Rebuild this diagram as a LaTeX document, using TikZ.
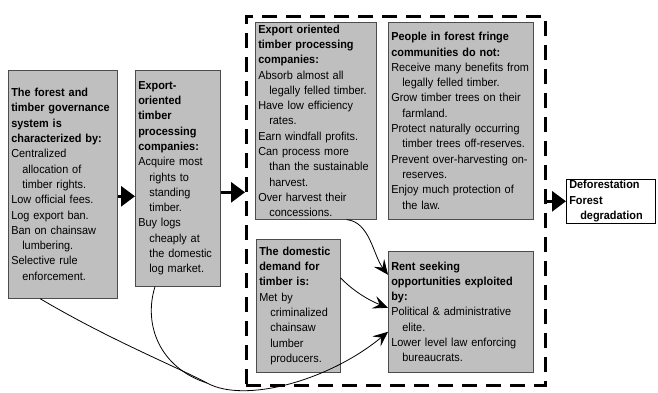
\documentclass[tikz,border=0pt]{standalone}
\usepackage{fontspec}
\setmainfont{Liberation Sans}[FakeStretch=0.94]
\usetikzlibrary{arrows.meta}

\newcommand{\indt}{\hspace*{11pt}} % hanging indent for wrapped lines

\begin{document}
\begin{tikzpicture}[x=1pt,y=-1pt,
  panel/.style={draw=black!70, fill=black!25, line width=0.6pt, anchor=north west, align=left,
    inner xsep=3pt, inner ysep=1pt, font=\fontsize{11.6}{15.3}\selectfont},
  bigarrow/.style={line width=3pt, -{Triangle[length=14pt,width=20pt]}},
  curveline/.style={line width=0.8pt},
  curvearrow/.style={curveline, -{Stealth[length=15pt,width=13pt,inset=6pt]}}]

\useasboundingbox (0,0) rectangle (658,393);


%dashed frame round the middle group
\node[draw, line width=2.6pt, dash pattern=on 15pt off 9pt, anchor=north west,
  minimum width=299pt, minimum height=369pt, inner sep=0pt] (group) at (245,15) {};


%governance box on the far left
\node[panel, minimum width=109pt, text width=103pt, minimum height=228pt] (gov) at (8,70)
  {\bfseries The forest and\\ timber governance\\ system is\\ characterized by:\\
   \mdseries Centralized\\ \indt allocation of\\ \indt timber rights.\\ Low official fees.\\
   Log export ban.\\ Ban on chainsaw\\ \indt lumbering.\\ Selective rule\\ \indt enforcement.};

%export companies, first column
\node[panel, minimum width=85pt, text width=79pt, minimum height=216pt] (exp1) at (135,70)
  {\bfseries Export-\\ oriented\\ timber\\ processing\\ companies:\\
   \mdseries Acquire most\\ \indt rights to\\ \indt standing\\ \indt timber.\\
   Buy logs\\ \indt cheaply at\\ \indt the domestic\\ \indt log market.};


%boxes inside the dashed frame
\node[panel, minimum width=121pt, text width=115pt, minimum height=197pt] (exp2) at (255,22)
  {\bfseries Export oriented\\ timber processing\\ companies:\\
   \mdseries Absorb almost all\\ \indt legally felled timber.\\ Have low efficiency\\ \indt rates.\\
   Earn windfall profits.\\ Can process more\\ \indt than the sustainable\\ \indt harvest.\\
   Over harvest their\\ \indt concessions.};

\node[panel, minimum width=145pt, text width=139pt, minimum height=197pt] (people) at (388,22)
  {\bfseries People in forest fringe\\ communities do not:\\
   \mdseries Receive many benefits from\\ \indt legally felled timber.\\
   Grow timber trees on their\\ \indt farmland.\\ Protect naturally occurring\\
   \indt timber trees off-reserves.\\ Prevent over-harvesting on-\\ \indt reserves.\\
   Enjoy much protection of\\ \indt the law.};

\node[panel, minimum width=84pt, text width=78pt, minimum height=133pt] (domestic) at (256,239)
  {\bfseries The domestic\\ demand for\\ timber is:\\
   \mdseries Met by\\ \indt criminalized\\ \indt chainsaw\\ \indt lumber\\ \indt producers.};

\node[panel, minimum width=145pt, text width=139pt, minimum height=121pt] (rent) at (388,251)
  {\bfseries Rent seeking\\ opportunities exploited\\ by:\\
   \mdseries Political \& administrative\\ \indt elite.\\
   Lower level law enforcing\\ \indt bureaucrats.};


%outcome box on the right
\node[panel, fill=white, draw=black, minimum width=89pt, text width=83pt, minimum height=44pt] (defo) at (566,179)
  {\bfseries Deforestation\\ Forest\\ \indt degradation};


%thick arrows along the main chain
\draw[bigarrow] ([yshift=-12pt]gov.east) -- ([yshift=-12pt]gov.east -| exp1.west);
\draw[bigarrow] ([yshift=-14pt]exp1.east) -- ([yshift=-14pt]exp1.east -| group.west);
\draw[bigarrow] (group.east |- defo.west) -- (defo.west);


%curved links into the rent seeking box
\coordinate (merge) at (207,383); %where the two lower curves meet

\draw[curvearrow] ([xshift=-30pt]exp2.south east) .. controls (370,222) and (373,255) .. ([yshift=37pt]rent.west);
\draw[curvearrow] ([yshift=28pt]domestic.east) .. controls (352,290) and (368,300) .. ([yshift=4pt]rent.west);
\draw[curvearrow] ([xshift=32pt]gov.south west) .. controls (110,340) and (175,366) .. (merge)
  .. controls (245,404) and (330,380) .. ([yshift=-20pt]rent.west);
\draw[curveline] ([xshift=20pt]exp1.south west) .. controls (143,325) and (160,368) .. (merge);

\end{tikzpicture}
\end{document}
